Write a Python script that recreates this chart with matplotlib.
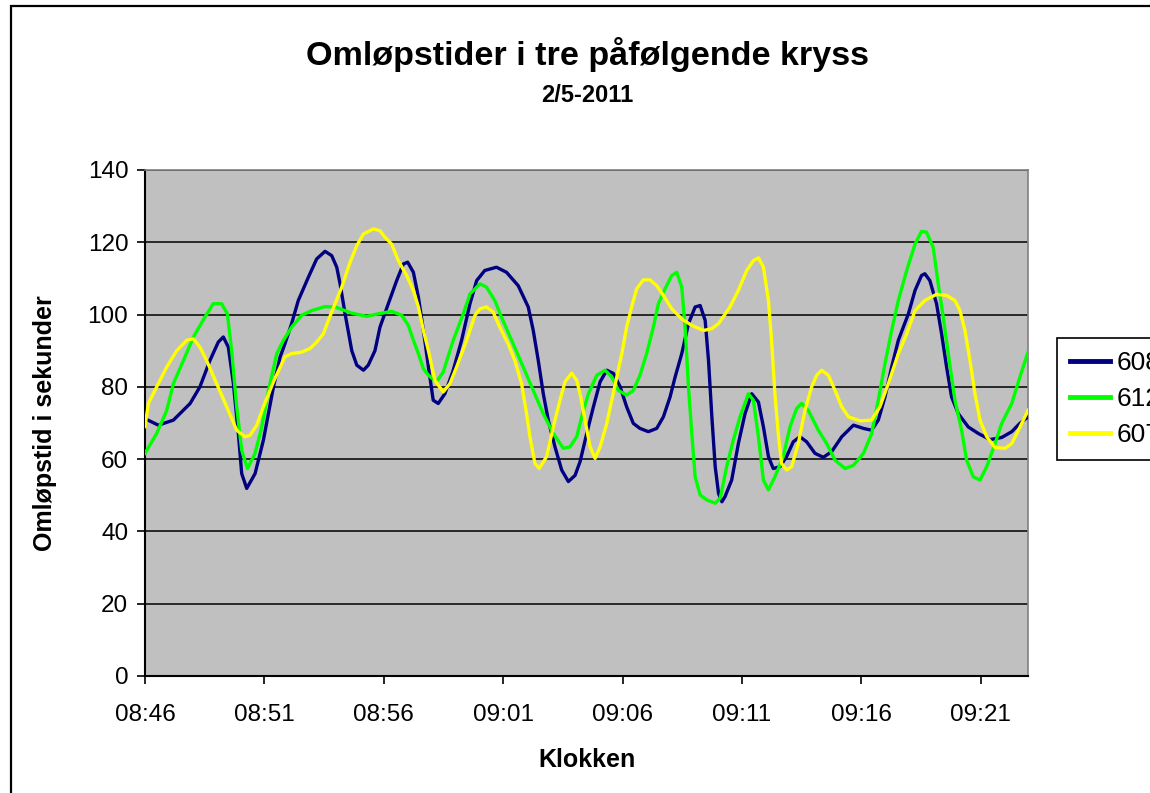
import matplotlib
matplotlib.use("Agg")
import matplotlib.pyplot as plt
from matplotlib.patches import Rectangle
from matplotlib.lines import Line2D

plt.rcParams['font.family'] = ['Liberation Sans', 'DejaVu Sans']

# time in minutes after 08:46
t_608 = [0.00, 0.56, 1.19, 1.89, 2.30, 2.72, 3.07, 3.28, 3.49, 3.70, 3.91, 4.05, 4.26, 4.61, 4.96, 5.38, 5.66,
         5.86, 6.14, 6.42, 6.84, 7.19, 7.54, 7.82, 8.03, 8.17, 8.38, 8.66, 8.87, 9.15, 9.35, 9.63, 9.84, 10.19,
         10.54, 10.82, 11.00, 11.24, 11.45, 11.66, 11.87, 12.07, 12.28, 12.56, 12.91, 13.26, 13.61, 13.89, 14.23,
         14.72, 15.14, 15.63, 16.05, 16.26, 16.47, 16.68, 16.89, 17.17, 17.45, 17.73, 18.01, 18.22, 18.50, 18.78,
         19.06, 19.34, 19.62, 19.90, 20.17, 20.45, 20.73, 21.08, 21.43, 21.71, 21.99, 22.20, 22.48, 22.76, 23.04,
         23.25, 23.46, 23.60, 23.74, 23.88, 24.02, 24.16, 24.29, 24.57, 24.85, 25.13, 25.41, 25.69, 25.90, 26.11,
         26.31, 26.59, 26.87, 27.15, 27.43, 27.71, 28.06, 28.41, 28.76, 29.18, 29.67, 30.09, 30.43, 30.71, 30.99,
         31.27, 31.55, 31.97, 32.25, 32.52, 32.66, 32.87, 33.15, 33.36, 33.57, 33.78, 34.06, 34.48, 34.90, 35.39,
         35.88, 36.30, 36.64, 36.98]
v_608 = [71.2, 69.4, 70.8, 75.4, 80.0, 87.3, 92.4, 93.8, 91.0, 81.0, 67.0, 56.0, 51.9, 56.0, 65.3, 80.0, 88.3,
         91.9, 97.5, 103.9, 110.3, 115.4, 117.5, 116.3, 113.1, 108.5, 100.2, 90.0, 86.0, 84.6, 86.0, 90.0, 96.5, 103.0,
         109.4, 114.0, 114.5, 111.7, 104.8, 95.6, 85.5, 76.3, 75.4, 78.1, 84.6, 92.9, 103.0, 109.4, 112.2,
         113.1, 111.7, 108.0, 102.1, 95.6, 87.3, 78.1, 70.8, 63.4, 57.0, 53.8, 55.5, 59.3, 67.1, 74.5,
         81.4, 84.6, 83.7, 80.0, 74.5, 69.9, 68.5, 67.6, 68.5, 71.7, 77.2, 82.7, 89.2, 97.5, 102.1,
         102.5, 98.4, 87.3, 71.7, 57.9, 50.5, 48.2, 49.6, 54.2, 64.3, 72.6, 78.1, 75.8, 68.9, 60.7,
         57.4, 57.9, 60.7, 64.8, 66.2, 64.8, 61.6, 60.5, 62.1, 66.2, 69.4, 68.5, 68.0, 70.8, 77.2,
         85.5, 92.9, 100.2, 106.7, 110.8, 111.3, 109.4, 103.0, 94.7, 85.5, 77.2, 72.6, 68.9, 67.1, 65.4,
         66.0, 67.6, 69.9, 71.7]

t_612 = [0.00, 0.49, 0.91, 1.19, 1.61, 2.03, 2.51, 2.86, 3.21, 3.45, 3.63, 3.84, 4.05, 4.29, 4.61, 4.89, 5.17,
         5.52, 5.80, 6.14, 6.56, 6.98, 7.54, 7.96, 8.66, 9.28, 9.77, 10.33, 10.75, 11.03, 11.24, 11.45, 11.66,
         11.87, 12.21, 12.49, 12.91, 13.33, 13.61, 14.03, 14.30, 14.65, 14.93, 15.42, 15.84, 16.26, 16.68, 17.10,
         17.52, 17.80, 18.08, 18.29, 18.57, 18.92, 19.27, 19.55, 19.83, 20.17, 20.45, 20.73, 21.01, 21.29, 21.50,
         21.78, 22.06, 22.27, 22.48, 22.62, 22.76, 22.90, 23.04, 23.25, 23.53, 23.88, 24.09, 24.36, 24.64, 24.92,
         25.27, 25.48, 25.69, 25.90, 26.11, 26.38, 26.73, 27.01, 27.29, 27.50, 27.78, 28.20, 28.55, 28.90, 29.32,
         29.67, 30.09, 30.43, 30.71, 30.99, 31.27, 31.55, 31.90, 32.25, 32.52, 32.73, 33.01, 33.22, 33.43, 33.64,
         33.92, 34.20, 34.41, 34.69, 34.97, 35.25, 35.60, 35.88, 36.30, 36.64, 36.98]
v_612 = [61.6, 67.1, 73.5, 80.9, 87.3, 93.8, 99.3, 103.0, 103.0, 100.2, 90.0, 74.5, 62.5, 57.4, 61.6, 68.9, 79.0,
         89.2, 92.9, 96.5, 99.8, 101.1, 102.2, 102.1, 100.4, 99.5, 100.2, 100.9, 99.8, 97.0, 92.9, 89.2, 85.0,
         83.2, 81.4, 84.1, 92.9, 100.2, 105.7, 108.5, 107.6, 103.9, 99.3, 91.9, 85.5, 79.0, 72.6, 67.1,
         63.0, 63.4, 66.2, 71.7, 78.1, 83.2, 84.6, 82.7, 79.0, 77.7, 79.0, 83.2, 89.2, 96.5, 103.0,
         107.1, 110.8, 111.7, 107.6, 96.5, 80.0, 67.1, 55.1, 50.1, 48.7, 47.8, 49.2, 57.9, 65.3, 71.7,
         78.1, 76.3, 66.2, 54.2, 51.5, 55.1, 60.7, 68.9, 74.0, 75.4, 73.5, 68.0, 64.3, 59.7, 57.4,
         58.3, 61.6, 67.0, 76.3, 86.4, 95.6, 103.9, 112.2, 119.5, 123.0, 122.8, 118.6, 108.5, 99.3, 89.2,
         76.3, 68.0, 59.7, 55.1, 54.2, 57.9, 64.3, 69.9, 75.4, 82.7, 89.6]

t_607 = [0.00, 0.14, 0.49, 0.91, 1.33, 1.75, 2.03, 2.30, 2.58, 3.00, 3.42, 3.84, 4.19, 4.40, 4.68, 4.96, 5.38,
         5.73, 5.86, 6.14, 6.56, 6.91, 7.19, 7.47, 7.68, 7.96, 8.24, 8.59, 8.87, 9.15, 9.56, 9.84, 10.05, 10.33,
         10.61, 10.96, 11.24, 11.45, 11.66, 11.87, 12.14, 12.49, 12.77, 13.05, 13.47, 13.82, 14.03, 14.30, 14.58,
         14.86, 15.21, 15.49, 15.77, 15.98, 16.12, 16.33, 16.51, 16.82, 17.10, 17.38, 17.59, 17.87, 18.08, 18.22,
         18.43, 18.64, 18.85, 19.06, 19.34, 19.55, 19.76, 19.97, 20.17, 20.38, 20.59, 20.87, 21.15, 21.43, 21.71,
         22.06, 22.48, 22.90, 23.39, 23.74, 24.02, 24.50, 24.85, 25.20, 25.48, 25.69, 25.90, 26.11, 26.24, 26.38,
         26.52, 26.66, 26.87, 27.08, 27.36, 27.64, 27.92, 28.13, 28.34, 28.62, 28.90, 29.18, 29.46, 29.95, 30.43,
         30.78, 31.13, 31.55, 31.90, 32.25, 32.66, 33.15, 33.57, 33.92, 34.13, 34.34, 34.55, 34.76, 34.97, 35.25,
         35.60, 36.02, 36.30, 36.58, 36.98]
v_607 = [69.0, 75.4, 80.0, 85.5, 90.0, 92.9, 93.3, 91.0, 87.3, 80.9, 74.5, 68.0, 66.2, 66.6, 69.4, 74.5, 81.4,
         86.4, 88.3, 89.2, 89.6, 90.6, 92.4, 94.7, 98.4, 103.0, 107.6, 114.5, 119.1, 122.3, 123.7, 123.2, 121.4, 119.5,
         114.9, 110.8, 106.7, 102.1, 95.6, 90.0, 81.8, 78.6, 80.9, 85.5, 92.9, 99.8, 101.6, 102.1, 100.7,
         96.5, 91.9, 87.3, 80.9, 72.6, 66.2, 58.8, 57.4, 60.7, 68.9, 76.3, 81.4, 83.8, 81.8, 78.1,
         70.8, 63.4, 60.2, 63.4, 69.9, 76.3, 82.7, 89.2, 96.5, 102.1, 107.1, 109.6, 109.6, 108.0, 105.3,
         101.6, 98.8, 97.0, 95.6, 96.1, 97.5, 102.1, 106.7, 112.2, 114.9, 115.7, 113.1, 103.9, 92.9, 78.1,
         67.1, 58.8, 57.0, 57.9, 64.3, 73.5, 80.0, 83.2, 84.6, 83.2, 79.0, 74.5, 71.7, 70.6, 70.8,
         74.5, 80.9, 89.2, 94.7, 101.1, 103.9, 105.6, 105.3, 103.9, 101.1, 95.6, 87.3, 78.1, 70.8, 66.2,
         63.2, 63.0, 64.3, 68.0, 73.5]

series_labels = ["608", "612", "607"]
series_colors = ["#000080", "#00FF00", "#FFFF00"]

tick_minutes = [0, 5, 10, 15, 20, 25, 30, 35]
tick_labels = ["08:46", "08:51", "08:56", "09:01", "09:06", "09:11", "09:16", "09:21"]
y_ticks = [0, 20, 40, 60, 80, 100, 120, 140]

W, H = 1150, 793
fig = plt.figure(figsize=(W / 100, H / 100), dpi=100)
fig.patch.set_facecolor("white")

# outer chart border (extends beyond right/bottom edges)
fig.add_artist(Rectangle((11 / W, -0.2), 1.5, (1 - 6 / H) + 0.2, transform=fig.transFigure,
                         fill=False, edgecolor="black", linewidth=1.6, clip_on=False))

ax = fig.add_axes([145 / W, 1 - 676 / H, (1028 - 145) / W, (676 - 170) / H])
ax.set_facecolor("#C0C0C0")

for t, v, lab, col in zip([t_608, t_612, t_607], [v_608, v_612, v_607], series_labels, series_colors):
    ax.plot(t, v, color=col, linewidth=2.4, label=lab, solid_joinstyle="round", zorder=3)

ax.set_xlim(0, 36.98)
ax.set_ylim(0, 140)
ax.set_yticks(y_ticks)
ax.set_xticks(tick_minutes)
ax.set_xticklabels(tick_labels)
ax.tick_params(axis="both", labelsize=17.5, direction="out", length=6, width=1.2, colors="black")
ax.tick_params(axis="x", pad=14)
ax.tick_params(axis="y", pad=6)
ax.yaxis.grid(True, color="black", linewidth=1.1)
ax.set_axisbelow(True)
for s in ["left", "bottom"]:
    ax.spines[s].set_color("black")
    ax.spines[s].set_linewidth(1.5)
for s in ["top", "right"]:
    ax.spines[s].set_color("#808080")
    ax.spines[s].set_linewidth(1.2)

ax.set_xlabel("Klokken", fontsize=18, fontweight="bold", labelpad=16)
ax.set_ylabel("Omløpstid i sekunder", fontsize=18, fontweight="bold", labelpad=22)

fig.text(587 / W, 1 - 55 / H, "Omløpstider i tre påfølgende kryss", ha="center", va="center",
         fontsize=24.6, fontweight="bold")
fig.text(587 / W, 1 - 95 / H, "2/5-2011", ha="center", va="center", fontsize=17, fontweight="bold")

handles = [Line2D([], [], color=c, linewidth=3.5) for c in series_colors]
leg = fig.legend(handles, series_labels, loc="upper left", bbox_to_anchor=(1057 / W, 1 - 338 / H),
                 fontsize=19, frameon=True, fancybox=False, edgecolor="black", framealpha=1,
                 handlelength=1.5, handletextpad=0.25, labelspacing=0.45, borderpad=0.5, borderaxespad=0)
leg.get_frame().set_linewidth(1.2)

fig.savefig("out.png", dpi=100)
